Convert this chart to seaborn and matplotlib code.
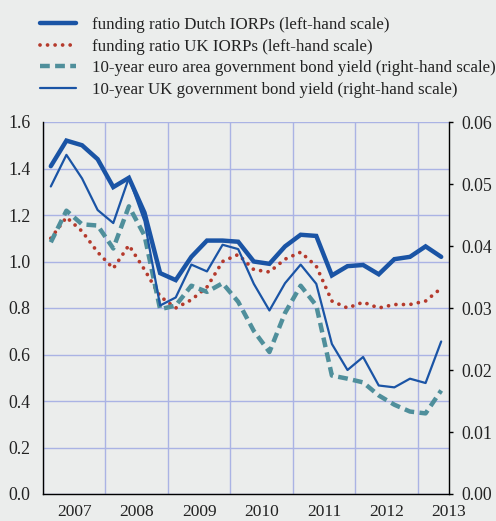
import pandas as pd
import seaborn as sns
import matplotlib.pyplot as plt
from matplotlib.ticker import FixedLocator, NullFormatter, FormatStrFormatter

# quarterly observations 2007Q1 - 2013Q2
quarters = pd.period_range('2007Q1', '2013Q2', freq='Q')

dutch_ratio = [1.41, 1.52, 1.50, 1.44, 1.32, 1.36, 1.21, 0.95, 0.92, 1.02, 1.09, 1.09, 1.085,
               1.00, 0.99, 1.065, 1.115, 1.11, 0.94, 0.98, 0.985, 0.945, 1.01, 1.02, 1.065, 1.02]
uk_ratio = [1.10, 1.19, 1.13, 1.04, 0.97, 1.07, 0.965, 0.85, 0.80, 0.835, 0.89, 1.00, 1.03,
            0.965, 0.955, 1.01, 1.04, 0.98, 0.83, 0.80, 0.825, 0.80, 0.815, 0.815, 0.83, 0.885]
euro_yield = [0.0406, 0.0457, 0.0435, 0.0433, 0.0396, 0.0464, 0.0417, 0.0298, 0.0304, 0.0336,
              0.0326, 0.0340, 0.0310, 0.0263, 0.0229, 0.0292, 0.0336, 0.0304, 0.0191, 0.0186,
              0.0180, 0.0159, 0.0144, 0.0133, 0.0130, 0.0167]
uk_yield = [0.0496, 0.0547, 0.0509, 0.0458, 0.0437, 0.0510, 0.0440, 0.0304, 0.0317, 0.0370,
            0.0359, 0.0402, 0.0395, 0.0339, 0.0296, 0.0340, 0.0370, 0.0339, 0.0242, 0.0200,
            0.0221, 0.0175, 0.0172, 0.0186, 0.0179, 0.0246]
years = ['2007', '2008', '2009', '2010', '2011', '2012', '2013']

labels = ['funding ratio Dutch IORPs (left-hand scale)',
          'funding ratio UK IORPs (left-hand scale)',
          '10-year euro area government bond yield (right-hand scale)',
          '10-year UK government bond yield (right-hand scale)']

df = pd.DataFrame({
    'x': quarters.year + (quarters.quarter - 1) / 4 + 0.125,
    'dutch': dutch_ratio, 'uk': uk_ratio,
    'euro_y': euro_yield, 'uk_y': uk_yield,
})

bg = '#ebedec'
blue = '#1a54a5'
red = '#b53a2c'
teal = '#4f8f9b'
txt = '#222222'

sns.set_style('white')
plt.rcParams['font.family'] = ['Liberation Serif', 'DejaVu Serif']
plt.rcParams['font.size'] = 12

fig = plt.figure(figsize=(4.96, 5.21), dpi=100, facecolor=bg)
ax = fig.add_axes([43 / 496, 1 - 494 / 521, (449 - 43) / 496, (494 - 122) / 521])
ax.set_facecolor(bg)
ax2 = ax.twinx()

sns.lineplot(data=df, x='x', y='dutch', ax=ax, color=blue, lw=3.2, label=labels[0],
             solid_joinstyle='miter')
sns.lineplot(data=df, x='x', y='uk', ax=ax, color=red, lw=2.7, label=labels[1],
             linestyle=(0, (0.01, 2.0)), dash_capstyle='round')
sns.lineplot(data=df, x='x', y='euro_y', ax=ax2, color=teal, lw=3.2, label=labels[2],
             linestyle=(0, (2.2, 1.2)))
sns.lineplot(data=df, x='x', y='uk_y', ax=ax2, color=blue, lw=1.6, label=labels[3])

ax.set_xlim(2007.0, 2013.5)
ax.set_ylim(0, 1.6)
ax2.set_ylim(0, 0.06)
ax.set_yticks([0, 0.2, 0.4, 0.6, 0.8, 1.0, 1.2, 1.4, 1.6])
ax.yaxis.set_major_formatter(FormatStrFormatter('%.1f'))
ax2.set_yticks([0, 0.01, 0.02, 0.03, 0.04, 0.05, 0.06])
ax2.yaxis.set_major_formatter(FormatStrFormatter('%.2f'))

ax.xaxis.set_major_locator(FixedLocator(range(2007, 2014)))
ax.xaxis.set_major_formatter(NullFormatter())
ax.xaxis.set_minor_locator(FixedLocator([int(y) + 0.5 for y in years]))
ax.set_xticklabels(years, minor=True)
ax.tick_params(axis='x', which='major', direction='out', length=4, width=1, color='black')
ax.tick_params(axis='x', which='minor', length=0, pad=7, labelsize=12.5, labelcolor=txt)
ax.tick_params(axis='y', length=0, pad=9, labelsize=12.8, labelcolor=txt)
ax2.tick_params(axis='y', direction='out', length=3, width=1, color='black', pad=6,
                labelsize=12.8, labelcolor=txt)

ax.grid(True, which='major', color='#aab3e4', lw=1.0)
ax.set_xlabel('')
ax.set_ylabel('')
ax2.set_ylabel('')

for a in (ax, ax2):
    a.spines['top'].set_visible(False)
    for s in ('left', 'right', 'bottom'):
        a.spines[s].set_color('black')
        a.spines[s].set_linewidth(1.0)
ax.spines['right'].set_visible(False)
ax2.spines['left'].set_visible(False)
ax2.spines['bottom'].set_visible(False)

h1, l1 = ax.get_legend_handles_labels()
h2, l2 = ax2.get_legend_handles_labels()
ax.get_legend().remove()
ax2.get_legend().remove()
fig.legend(h1 + h2, l1 + l2, loc='upper left', bbox_to_anchor=(40 / 496, 1 - 17 / 521),
           frameon=False, handlelength=2.1, handletextpad=0.95, labelspacing=0.33,
           borderpad=0, borderaxespad=0, fontsize=12.2, labelcolor=txt)

fig.savefig('out.png', dpi=100, facecolor=bg)
